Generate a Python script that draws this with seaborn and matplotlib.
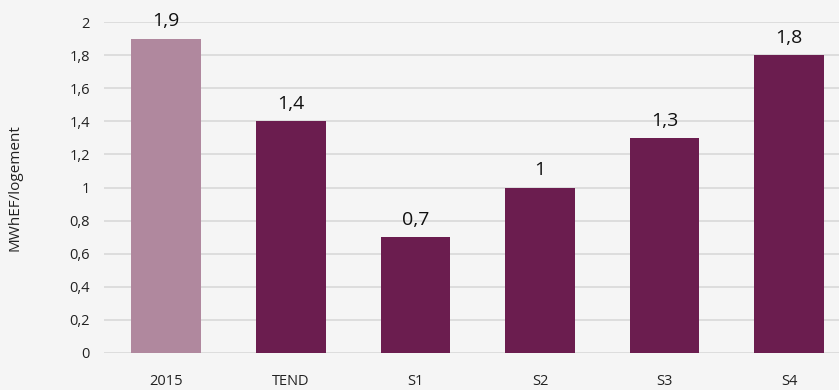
import pandas as pd
import matplotlib.pyplot as plt
import seaborn as sns

# Données
scenarios = ["2015", "TEND", "S1", "S2", "S3", "S4"]
valeurs = [1.9, 1.4, 0.7, 1.0, 1.3, 1.8]
couleurs = ["#b0889e", "#6b1d4f", "#6b1d4f", "#6b1d4f", "#6b1d4f", "#6b1d4f"]
yticks = [0, 0.2, 0.4, 0.6, 0.8, 1, 1.2, 1.4, 1.6, 1.8, 2]

def fmt(v):
    s = f"{v:.1f}".rstrip("0").rstrip(".")
    return s.replace(".", ",")

sns.set_theme(style="whitegrid")
plt.rcParams['font.family'] = ['Open Sans', 'DejaVu Sans']

df = pd.DataFrame({"scenario": scenarios, "valeur": valeurs})

fig = plt.figure(figsize=(8.39, 3.90), dpi=100, facecolor="#f5f5f5")
ax = fig.add_axes([104 / 839, 1 - 353 / 390, 1 - 104 / 839, (353 - 22) / 390])
ax.set_facecolor("#f5f5f5")

sns.barplot(data=df, x="scenario", y="valeur", hue="scenario", palette=couleurs,
            legend=False, width=0.56, saturation=1, linewidth=0, ax=ax, zorder=3)

ax.set_ylim(0, 2)
ax.set_xlim(-0.5, 5.4)
ax.set_yticks(yticks)
ax.set_yticklabels([fmt(t) for t in yticks], fontsize=10.5, color="#222222")
ax.tick_params(axis="x", labelsize=10.5, colors="#222222", pad=15, length=0)
ax.tick_params(axis="y", pad=10, length=0)
ax.grid(axis="y", color="#d9d9d9", linewidth=1.2, zorder=0)
ax.grid(axis="x", visible=False)
for s in ax.spines.values():
    s.set_visible(False)

for i, v in enumerate(valeurs):
    ax.text(i, v + 0.05, fmt(v), ha="center", va="bottom", fontsize=14,
            fontweight="medium", color="#111111", clip_on=False)

ax.set_xlabel("")
ax.set_ylabel("MWhEF/logement", fontsize=11, color="#222222", labelpad=34)

fig.savefig("out.png", dpi=100, facecolor=fig.get_facecolor())
